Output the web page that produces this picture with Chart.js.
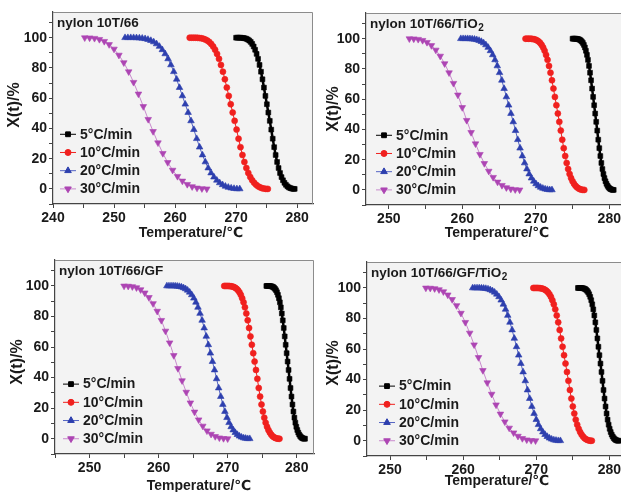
<!DOCTYPE html>
<html>
<head>
<meta charset="utf-8">
<script src="https://cdn.jsdelivr.net/npm/chart.js@4.4.1/dist/chart.umd.min.js"></script>
<style>
  html, body { margin: 0; padding: 0; background: #fff; width: 621px; height: 492px; overflow: hidden; }
  canvas { position: absolute; }
</style>
</head>
<body>
<canvas id="p1" width="320" height="246"></canvas>
<canvas id="p2" width="320" height="246"></canvas>
<canvas id="p3" width="320" height="246"></canvas>
<canvas id="p4" width="320" height="246"></canvas>
<script>
// ================== Data ==================
const rateLabels = ['5°C/min', '10°C/min', '20°C/min', '30°C/min'];

// relative crystallinity X(t) in %, in order of rising temperature
const fracFast = [100, 100, 100, 100, 99.9, 99.8, 99.6, 99.3, 98.8, 98.1, 97.2, 95.9, 94.2, 92.0, 89.3, 86.0, 82.0, 77.5, 72.5, 67.0,
  61.5, 56.0, 50.5, 45.0, 39.2, 33.2, 27.6, 22.4, 17.8, 13.8, 10.5, 7.8, 5.7, 4.0, 2.7, 1.7, 1.0, 0.5, 0.2, 0.0, 0];
const fracSlow = [100, 99.9, 99.6, 98.9, 97.6, 95.5, 92.5, 88.5, 83.5, 77.5, 70.5, 62.8, 54.5, 46.0, 38.0, 30.5, 23.5,
  17.5, 12.4, 8.3, 5.2, 3.0, 1.5, 0.6, 0.2, 0];

// nylon 10T/66
const p1T5 = [270.00, 270.24, 270.48, 270.72, 270.96, 271.20, 271.44, 271.68, 271.92, 272.16, 272.40, 272.64, 272.88, 273.12,
  273.36, 273.60, 273.84, 274.08, 274.32, 274.56, 274.80, 275.04, 275.28, 275.52, 275.76, 276.00, 276.24, 276.48, 276.72,
  276.96, 277.20, 277.44, 277.68, 277.92, 278.16, 278.40, 278.64, 278.88, 279.12, 279.36, 279.60];
const p1T10 = [262.40, 262.72, 263.04, 263.36, 263.68, 264.00, 264.32, 264.64, 264.96, 265.28, 265.60, 265.92, 266.24, 266.56,
  266.88, 267.20, 267.52, 267.84, 268.16, 268.48, 268.80, 269.12, 269.44, 269.76, 270.08, 270.40, 270.72, 271.04, 271.36,
  271.68, 272.00, 272.32, 272.64, 272.96, 273.28, 273.60, 273.92, 274.24, 274.56, 274.88, 275.20];
const p1T20 = [251.80, 252.27, 252.74, 253.21, 253.68, 254.15, 254.62, 255.09, 255.56, 256.03, 256.50, 256.97, 257.44, 257.91,
  258.38, 258.85, 259.32, 259.79, 260.26, 260.73, 261.20, 261.67, 262.14, 262.61, 263.08, 263.55, 264.02, 264.49, 264.96,
  265.43, 265.90, 266.37, 266.84, 267.31, 267.78, 268.25, 268.72, 269.19, 269.66, 270.13, 270.60];
const p1T30 = [245.2, 246.0, 246.8, 247.6, 248.4, 249.2, 250.0, 250.8, 251.6, 252.4, 253.2, 254.0, 254.8, 255.6, 256.4,
  257.2, 258.0, 258.8, 259.6, 260.4, 261.2, 262.0, 262.8, 263.6, 264.4, 265.2];

// nylon 10T/66/TiO2
const p2T5 = [275.00, 275.14, 275.28, 275.42, 275.56, 275.70, 275.84, 275.98, 276.12, 276.26, 276.40, 276.54, 276.68, 276.82,
  276.96, 277.10, 277.24, 277.38, 277.52, 277.66, 277.80, 277.94, 278.08, 278.22, 278.36, 278.50, 278.64, 278.78, 278.92,
  279.06, 279.20, 279.34, 279.48, 279.62, 279.76, 279.90, 280.04, 280.18, 280.32, 280.46, 280.60];
const p2T10 = [268.6, 268.8, 269.0, 269.2, 269.4, 269.6, 269.8, 270.0, 270.2, 270.4, 270.6, 270.8, 271.0, 271.2, 271.4,
  271.6, 271.8, 272.0, 272.2, 272.4, 272.6, 272.8, 273.0, 273.2, 273.4, 273.6, 273.8, 274.0, 274.2, 274.4, 274.6, 274.8,
  275.0, 275.2, 275.4, 275.6, 275.8, 276.0, 276.2, 276.4, 276.6];
const p2T20 = [259.80, 260.11, 260.42, 260.73, 261.04, 261.35, 261.66, 261.97, 262.28, 262.59, 262.90, 263.21, 263.52, 263.83,
  264.14, 264.45, 264.76, 265.07, 265.38, 265.69, 266.00, 266.31, 266.62, 266.93, 267.24, 267.55, 267.86, 268.17, 268.48,
  268.79, 269.10, 269.41, 269.72, 270.03, 270.34, 270.65, 270.96, 271.27, 271.58, 271.89, 272.20];
const p2T30 = [252.8, 253.4, 254.0, 254.6, 255.2, 255.8, 256.4, 257.0, 257.6, 258.2, 258.8, 259.4, 260.0, 260.6, 261.2,
  261.8, 262.4, 263.0, 263.6, 264.2, 264.8, 265.4, 266.0, 266.6, 267.2, 267.8];

// nylon 10T/66/GF
const p3T5 = [275.60, 275.74, 275.88, 276.02, 276.16, 276.30, 276.44, 276.58, 276.72, 276.86, 277.00, 277.14, 277.28, 277.42,
  277.56, 277.70, 277.84, 277.98, 278.12, 278.26, 278.40, 278.54, 278.68, 278.82, 278.96, 279.10, 279.24, 279.38, 279.52,
  279.66, 279.80, 279.94, 280.08, 280.22, 280.36, 280.50, 280.64, 280.78, 280.92, 281.06, 281.20];
const p3T10 = [269.5, 269.7, 269.9, 270.1, 270.3, 270.5, 270.7, 270.9, 271.1, 271.3, 271.5, 271.7, 271.9, 272.1, 272.3,
  272.5, 272.7, 272.9, 273.1, 273.3, 273.5, 273.7, 273.9, 274.1, 274.3, 274.5, 274.7, 274.9, 275.1, 275.3, 275.5, 275.7,
  275.9, 276.1, 276.3, 276.5, 276.7, 276.9, 277.1, 277.3, 277.5];
const p3T20 = [261.2, 261.5, 261.8, 262.1, 262.4, 262.7, 263.0, 263.3, 263.6, 263.9, 264.2, 264.5, 264.8, 265.1, 265.4,
  265.7, 266.0, 266.3, 266.6, 266.9, 267.2, 267.5, 267.8, 268.1, 268.4, 268.7, 269.0, 269.3, 269.6, 269.9, 270.2, 270.5,
  270.8, 271.1, 271.4, 271.7, 272.0, 272.3, 272.6, 272.9, 273.2];
const p3T30 = [255.0, 255.6, 256.2, 256.8, 257.4, 258.0, 258.6, 259.2, 259.8, 260.4, 261.0, 261.6, 262.2, 262.8, 263.4,
  264.0, 264.6, 265.2, 265.8, 266.4, 267.0, 267.6, 268.2, 268.8, 269.4, 270.0];

// nylon 10T/66/GF/TiO2
const p4T5 = [275.70, 275.84, 275.98, 276.12, 276.26, 276.40, 276.54, 276.68, 276.82, 276.96, 277.10, 277.24, 277.38, 277.52,
  277.66, 277.80, 277.94, 278.08, 278.22, 278.36, 278.50, 278.64, 278.78, 278.92, 279.06, 279.20, 279.34, 279.48, 279.62,
  279.76, 279.90, 280.04, 280.18, 280.32, 280.46, 280.60, 280.74, 280.88, 281.02, 281.16, 281.30];
const p4T10 = [269.6, 269.8, 270.0, 270.2, 270.4, 270.6, 270.8, 271.0, 271.2, 271.4, 271.6, 271.8, 272.0, 272.2, 272.4,
  272.6, 272.8, 273.0, 273.2, 273.4, 273.6, 273.8, 274.0, 274.2, 274.4, 274.6, 274.8, 275.0, 275.2, 275.4, 275.6, 275.8,
  276.0, 276.2, 276.4, 276.6, 276.8, 277.0, 277.2, 277.4, 277.6];
const p4T20 = [261.3, 261.6, 261.9, 262.2, 262.5, 262.8, 263.1, 263.4, 263.7, 264.0, 264.3, 264.6, 264.9, 265.2, 265.5,
  265.8, 266.1, 266.4, 266.7, 267.0, 267.3, 267.6, 267.9, 268.2, 268.5, 268.8, 269.1, 269.4, 269.7, 270.0, 270.3, 270.6,
  270.9, 271.2, 271.5, 271.8, 272.1, 272.4, 272.7, 273.0, 273.3];
const p4T30 = [254.9, 255.5, 256.1, 256.7, 257.3, 257.9, 258.5, 259.1, 259.7, 260.3, 260.9, 261.5, 262.1, 262.7, 263.3,
  263.9, 264.5, 265.1, 265.7, 266.3, 266.9, 267.5, 268.1, 268.7, 269.3, 269.9];

// ================== Styles / layout ==================
const FONT = '"Liberation Sans", Arial, "DejaVu Sans", sans-serif';
const Y_W = 45, X_H = 30;

const seriesStyle = [
  { color: '#000000', line: '#000000', lw: 2.5, style: 'rect', r: 3.4, rot: 0 },
  { color: '#f0201e', line: '#f0201e', lw: 1, style: 'circle', r: 3, rot: 0 },
  { color: '#2d3fae', line: '#5565c4', lw: 1, style: 'triangle', r: 3.8, rot: 0 },
  { color: '#ad45b3', line: '#c98acd', lw: 1, style: 'triangle', r: 3.8, rot: 180 }
];

const panels = [
  { id: 'p1', title: 'nylon 10T/66', sub: '', box: { x: 0, y: 0 }, area: { l: 53, t: 12, r: 313, b: 204 },
    xMin: 240, xMax: 282.6, xTitle: [191, 233], yTitle: [15, 105], legX: 7,
    temps: [p1T5, p1T10, p1T20, p1T30] },
  { id: 'p2', title: 'nylon 10T/66/TiO', sub: '2', box: { x: 310, y: 0 }, area: { l: 366, t: 13, r: 624, b: 205 },
    xMin: 246.9, xMax: 282, xTitle: [497, 233], yTitle: [334, 109], legX: 10,
    temps: [p2T5, p2T10, p2T20, p2T30] },
  { id: 'p3', title: 'nylon 10T/66/GF', sub: '', box: { x: 0, y: 246 }, area: { l: 55, t: 260, r: 314, b: 454 },
    xMin: 245, xMax: 282.5, xTitle: [199, 486], yTitle: [18, 362], legX: 8,
    temps: [p3T5, p3T10, p3T20, p3T30] },
  { id: 'p4', title: 'nylon 10T/66/GF/TiO', sub: '2', box: { x: 310, y: 246 }, area: { l: 367, t: 262, r: 624, b: 456 },
    xMin: 246.85, xMax: 282, xTitle: [497, 481], yTitle: [334, 363], legX: 12,
    temps: [p4T5, p4T10, p4T20, p4T30] }
];

Chart.defaults.font.family = FONT;

// ================== Frame, title, legend, axis titles ==================
function makeDeco(p) {
  return {
    id: 'deco',
    beforeDraw(chart) {
      const { ctx, chartArea: a } = chart;
      ctx.save();
      ctx.fillStyle = '#f3f3f3';
      ctx.fillRect(a.left, a.top, a.right - a.left, a.bottom - a.top);
      ctx.restore();
    },
    afterDraw(chart) {
      const { ctx, chartArea: a } = chart;
      const ox = p.box.x, oy = p.box.y;
      ctx.save();
      // top + right frame
      ctx.strokeStyle = '#8c8c8c';
      ctx.lineWidth = 1;
      ctx.beginPath();
      ctx.moveTo(a.left, a.top + 0.5);
      ctx.lineTo(a.right - 0.5, a.top + 0.5);
      ctx.lineTo(a.right - 0.5, a.bottom);
      ctx.stroke();

      // panel title
      ctx.fillStyle = '#1a1a1a';
      ctx.textBaseline = 'alphabetic';
      ctx.textAlign = 'left';
      ctx.font = 'bold 13.5px ' + FONT;
      ctx.fillText(p.title, a.left + 4, a.top + 15);
      if (p.sub) {
        const w = ctx.measureText(p.title).width;
        ctx.font = 'bold 10px ' + FONT;
        ctx.fillText(p.sub, a.left + 4 + w + 0.5, a.top + 18);
      }

      // legend
      const yScale = chart.scales.y;
      const zero = yScale.getPixelForValue(0);
      chart.data.datasets.forEach((ds, i) => {
        const y = zero - (3 - i) * 18.2;
        const x0 = a.left + p.legX;
        ctx.strokeStyle = ds.borderColor;
        ctx.lineWidth = 1;
        ctx.beginPath();
        ctx.moveTo(x0, y);
        ctx.lineTo(x0 + 16, y);
        ctx.stroke();
        ctx.fillStyle = ds.pointBackgroundColor;
        ctx.strokeStyle = ds.pointBackgroundColor;
        Chart.helpers.drawPoint(ctx, { pointStyle: ds.pointStyle, rotation: ds.pointRotation, radius: ds.pointRadius, borderWidth: 0.6 }, x0 + 8, y);
        ctx.fillStyle = '#1a1a1a';
        ctx.font = 'bold 14px ' + FONT;
        ctx.textBaseline = 'middle';
        ctx.fillText(ds.label, x0 + 20, y + 0.5);
      });

      // axis titles
      ctx.fillStyle = '#1a1a1a';
      ctx.textAlign = 'center';
      ctx.textBaseline = 'middle';
      ctx.font = 'bold 14px ' + FONT;
      ctx.fillText('Temperature/℃', p.xTitle[0] - ox, p.xTitle[1] - oy);
      ctx.translate(p.yTitle[0] - ox, p.yTitle[1] - oy);
      ctx.rotate(-Math.PI / 2);
      ctx.font = 'bold 16px ' + FONT;
      ctx.fillText('X(t)/%', 0, 0);
      ctx.restore();
    }
  };
}

// ================== Build panels ==================
function buildPanel(p) {
  const canvas = document.getElementById(p.id);
  canvas.style.left = p.box.x + 'px';
  canvas.style.top = p.box.y + 'px';
  const W = canvas.width, H = canvas.height;

  const datasets = p.temps.map((temps, i) => {
    const st = seriesStyle[i];
    const frac = i === 3 ? fracSlow : fracFast;
    return {
      label: rateLabels[i],
      data: temps.map((t, k) => ({ x: t, y: frac[k] })),
      borderColor: st.line,
      borderWidth: st.lw,
      backgroundColor: st.color,
      pointStyle: st.style,
      pointRotation: st.rot,
      pointRadius: st.r,
      pointBackgroundColor: st.color,
      pointBorderColor: st.color,
      pointBorderWidth: 0.6,
      tension: 0,
      fill: false
    };
  });

  const tickFont = { family: FONT, size: 14, weight: 'bold' };
  const grid = { display: true, drawOnChartArea: false, drawTicks: true, tickLength: 4, tickWidth: 1, tickColor: '#444' };

  new Chart(canvas, {
    type: 'line',
    data: { datasets },
    options: {
      responsive: false,
      animation: false,
      devicePixelRatio: 1,
      layout: {
        padding: {
          left: p.area.l - p.box.x - Y_W,
          top: p.area.t - p.box.y,
          right: W - (p.area.r - p.box.x),
          bottom: H - (p.area.b - p.box.y) - X_H
        }
      },
      plugins: { legend: { display: false }, tooltip: { enabled: false } },
      scales: {
        x: {
          type: 'linear',
          min: p.xMin,
          max: p.xMax,
          grid,
          border: { display: true, color: '#444', width: 1.2 },
          ticks: {
            stepSize: 5, includeBounds: false, autoSkip: false, maxRotation: 0,
            padding: 2, color: '#1a1a1a', font: tickFont,
            callback: v => (v % 10 === 0 ? v : '')
          },
          afterFit: s => { s.height = X_H; }
        },
        y: {
          min: -10,
          max: 117,
          grid,
          border: { display: true, color: '#444', width: 1.2 },
          ticks: {
            stepSize: 10, includeBounds: false, autoSkip: false,
            padding: 2, color: '#1a1a1a', font: tickFont,
            callback: v => (v >= 0 && v <= 100 && v % 20 === 0 ? v : '')
          },
          afterFit: s => { s.width = Y_W; }
        }
      }
    },
    plugins: [makeDeco(p)]
  });
}

panels.forEach(buildPanel);
</script>
</body>
</html>
